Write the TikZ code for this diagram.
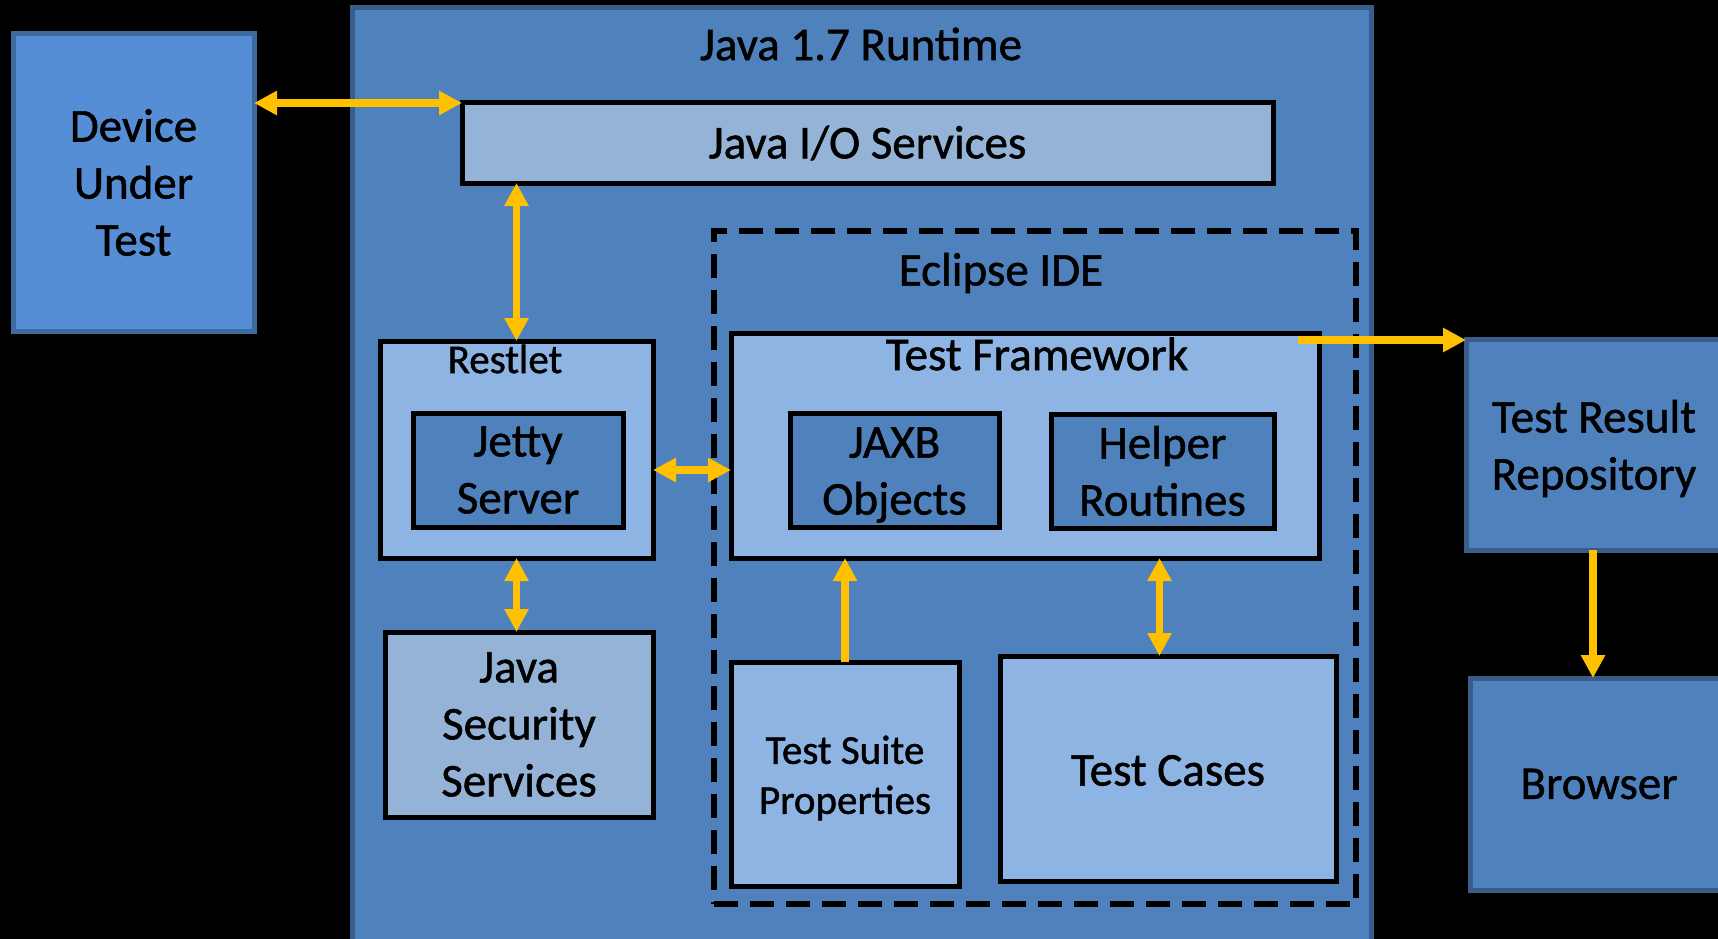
\documentclass[tikz,border=0pt]{standalone}
\usepackage{fontspec}
\setmainfont{Carlito}[FakeBold=1.1]
\usetikzlibrary{arrows.meta,calc}
\definecolor{bgblk}{HTML}{000000}
\definecolor{midblue}{HTML}{4F81BD}
\definecolor{darkedge}{HTML}{385D8A}
\definecolor{devblue}{HTML}{558ED5}
\definecolor{devedge}{HTML}{3F6A9E}
\definecolor{paleblue}{HTML}{95B3D7}
\definecolor{liteblue}{HTML}{8EB4E3}
\definecolor{arrowgold}{HTML}{FFC000}
\tikzset{
  x=1pt,y=-1pt,
  boxbase/.style={rectangle, anchor=north west, inner sep=0pt, outer sep=0pt, align=center,
    font=\fontsize{47}{57}\selectfont},
  blkbox/.style={boxbase, draw=black, line width=5pt},
  bluebox/.style={boxbase, draw=darkedge, line width=5pt, fill=midblue},
  lbl/.style={inner sep=0pt, font=\fontsize{47}{57}\selectfont},
  smalllbl/.style={inner sep=0pt, font=\fontsize{41}{50}\selectfont},
  arr/.style={draw=arrowgold, line width=7.5pt, -{Triangle[width=23pt,length=23pt]}},
  dblarr/.style={draw=arrowgold, line width=7.5pt, {Triangle[width=23pt,length=23pt]}-{Triangle[width=23pt,length=23pt]}}
}
\begin{document}
\begin{tikzpicture}
\fill[bgblk] (0,0) rectangle (1718,939);
\useasboundingbox (0,0) rectangle (1718,939);
% runtime
\node[bluebox, minimum width=1019pt, minimum height=970pt] (rt) at (352,8) {};
\node[lbl] (rtl) at (861,44) {Java 1.7 Runtime};
% device
\node[boxbase, draw=devedge, line width=5pt, fill=devblue, minimum width=241pt, minimum height=297pt] (dev) at (13,34) {Device\\Under\\Test};
% io
\node[blkbox, fill=paleblue, minimum width=811pt, minimum height=80pt] (io) at (462,103) {Java I/O Services};
% eclipse
\node[boxbase, draw=black, line width=5.5pt, dash pattern=on 24pt off 12pt, minimum width=642pt, minimum height=673pt] (ecl) at (714,231) {};
\node[lbl] (ecll) at (1001,273) {Eclipse IDE};
% restlet
\node[blkbox, fill=liteblue, minimum width=273pt, minimum height=217pt] (restlet) at (380,341) {};
\node[smalllbl] (restl) at (505,359) {Restlet};
\node[blkbox, fill=midblue, minimum width=210pt, minimum height=114pt] (jetty) at (413,413) {Jetty\\Server};
% security
\node[blkbox, fill=paleblue, minimum width=268pt, minimum height=185pt] (sec) at (385,632) {Java\\Security\\Services};
% test framework
\node[blkbox, fill=liteblue, minimum width=588pt, minimum height=225pt] (tf) at (731,333) {};
\node[lbl] (tfl) at (1037,354) {Test Framework};
\node[blkbox, fill=midblue, minimum width=209pt, minimum height=114pt] (jaxb) at (790,413) {};
\node[lbl, align=center] (jaxbt) at ($(jaxb.center)+(0,5)$) {JAXB\\Objects};
\node[blkbox, fill=midblue, minimum width=223pt, minimum height=114pt] (helper) at (1051,414) {Helper\\Routines};
% suite & cases
\node[blkbox, fill=liteblue, minimum width=228pt, minimum height=224pt] (suite) at (731,662) {};
\node[smalllbl, align=center] (suitet) at ($(suite.center)+(0,4)$) {Test Suite\\Properties};
\node[blkbox, fill=liteblue, minimum width=336pt, minimum height=225pt] (cases) at (1000,656) {};
\node[lbl] (casest) at ($(cases.center)+(0,2)$) {Test Cases};
% result & browser
\node[bluebox, minimum width=262pt, minimum height=211pt] (result) at (1466,339) {};
\node[lbl, align=center] (resultt) at ($(result.center)+(-3,4)$) {Test Result\\Repository};
\node[bluebox, minimum width=258pt, minimum height=212pt] (browser) at (1470,678) {Browser};
% arrows
\draw[dblarr] (dev.east |- io.north west) -- (io.north west);
\draw[dblarr] (restlet.north |- io.south) -- (restlet.north);
\draw[dblarr] (restlet.south) -- (restlet.south |- sec.north);
\draw[dblarr] (jetty.east -| restlet.east) -- (jetty.east -| tf.west);
\draw[arr] (suite.north) -- (suite.north |- tf.south);
\coordinate (hcx) at ($(helper.south)+(-3,0)$);
\draw[dblarr] (hcx |- tf.south) -- (hcx |- cases.north);
\coordinate (tfout) at ($(tf.north east)+(-21,7)$);
\draw[arr] (tfout) -- (tfout -| result.west);
\coordinate (rbx) at ($(result.south)+(-4,0)$);
\draw[arr] (rbx) -- (rbx |- browser.north);
\end{tikzpicture}
\end{document}
